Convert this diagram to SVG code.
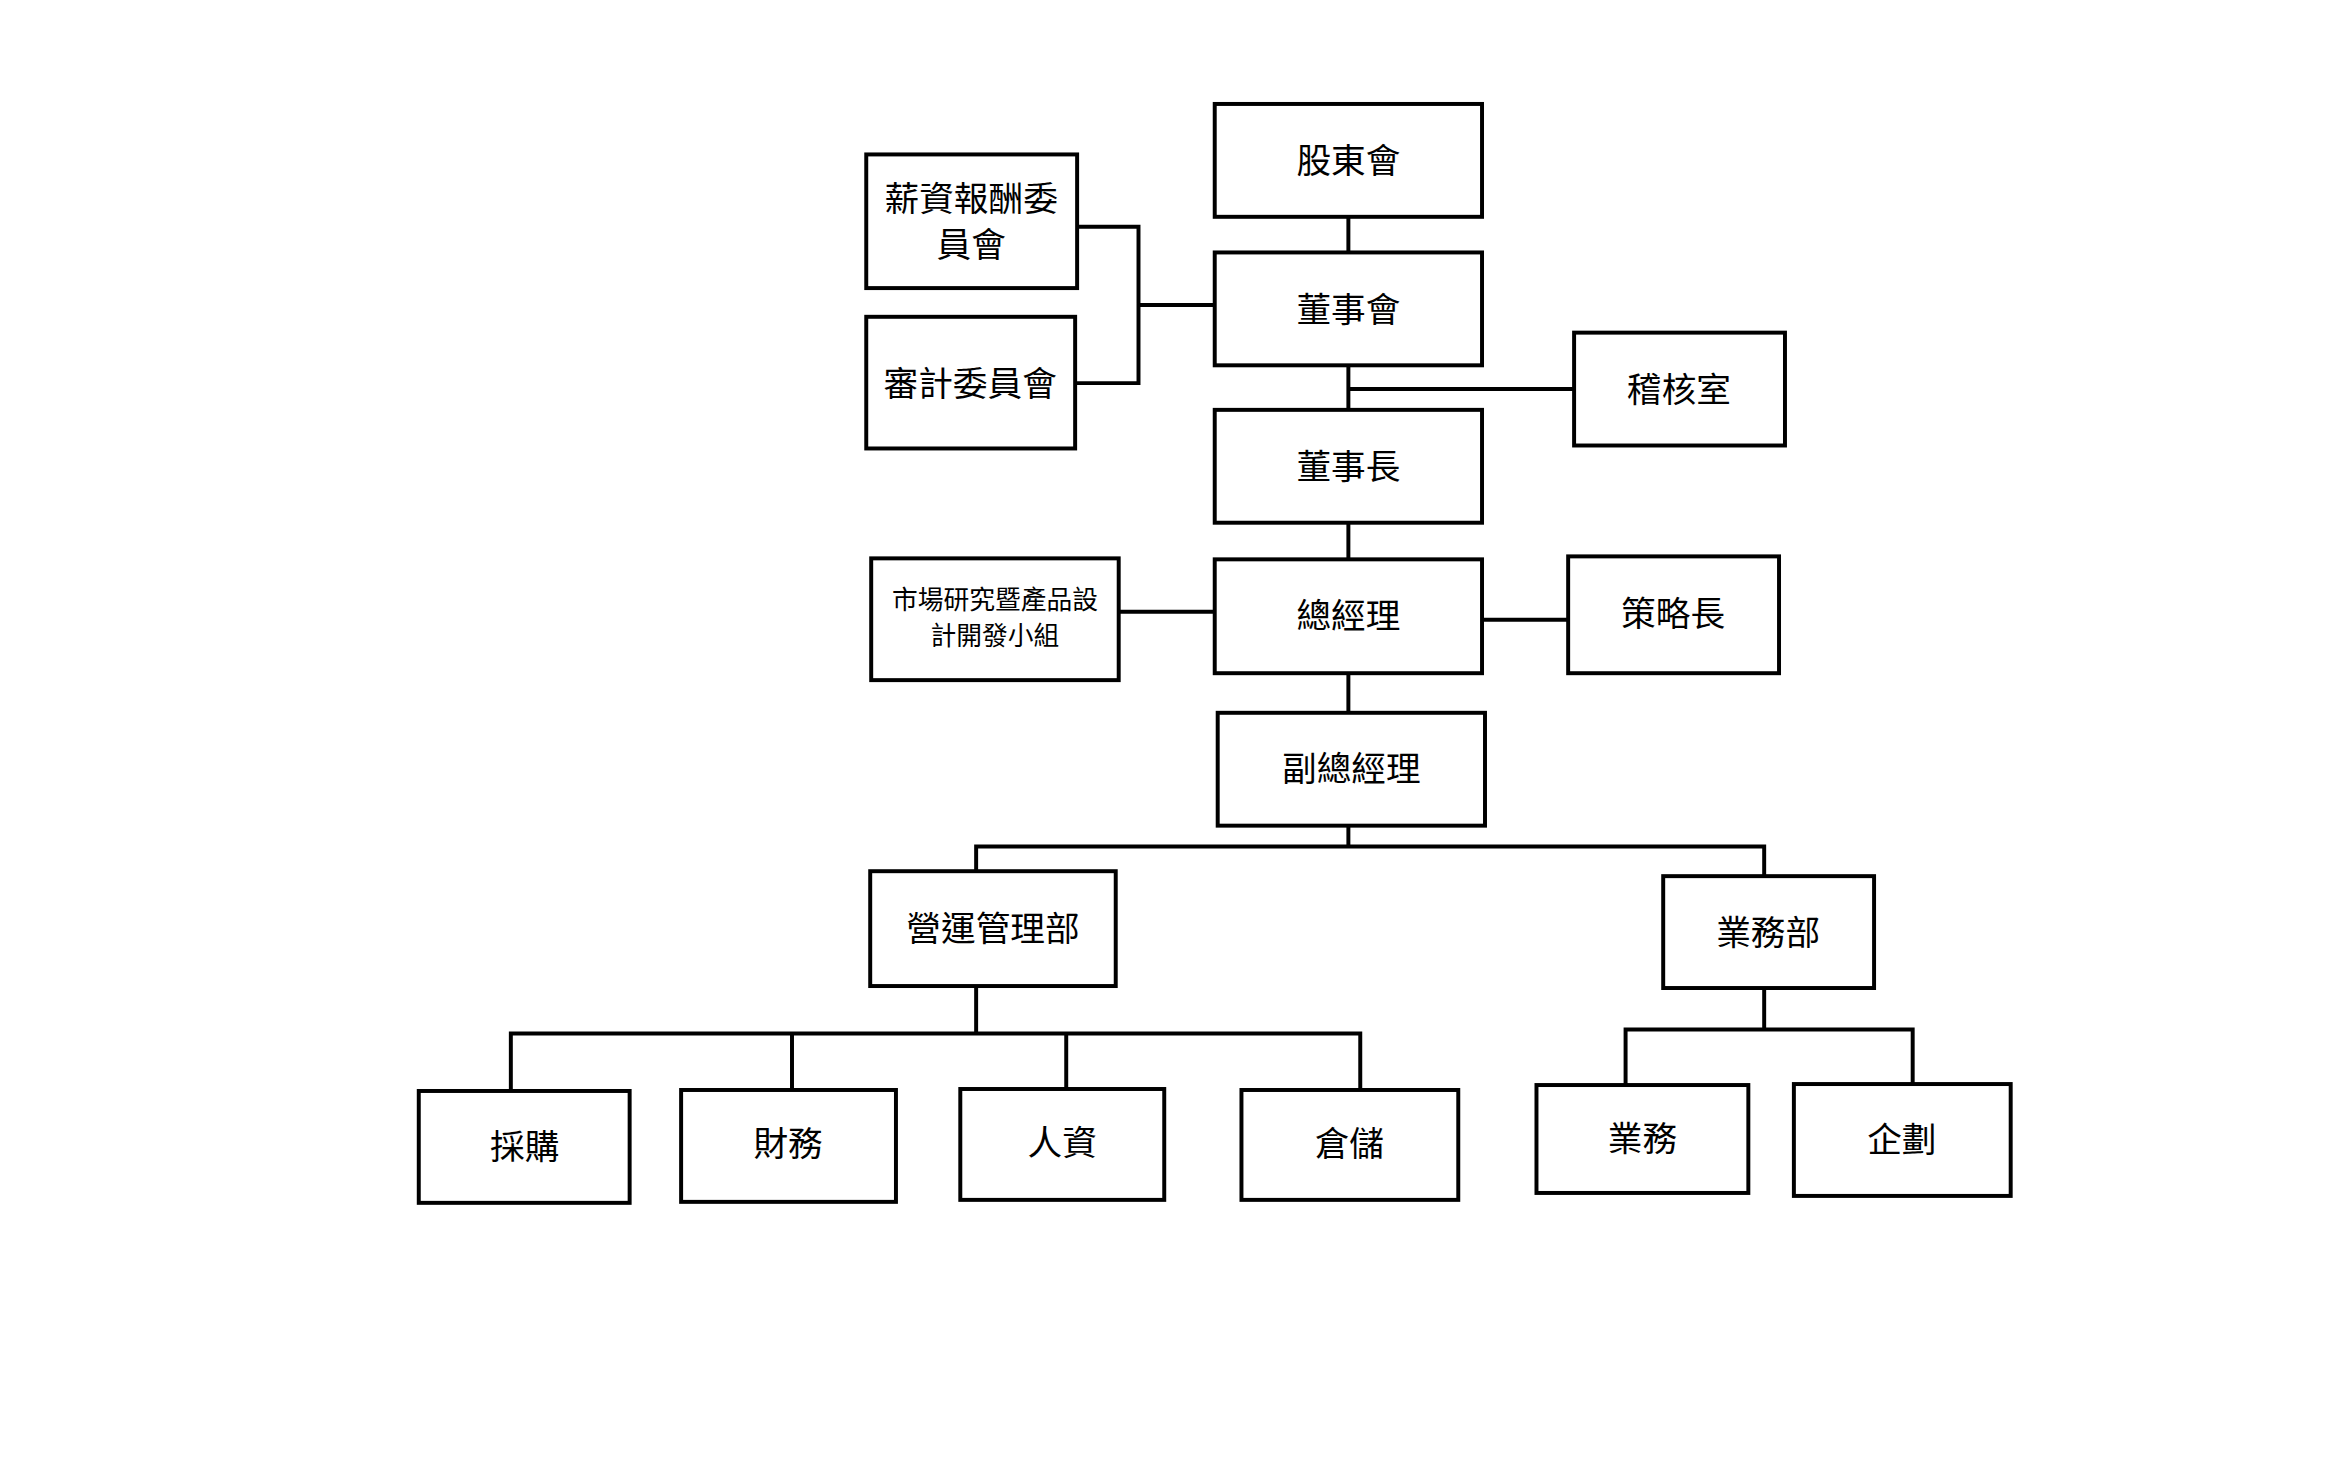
<svg xmlns="http://www.w3.org/2000/svg" width="2328" height="1477" viewBox="0 0 2328 1477">
<style>
rect{fill:#fff;stroke:#000;stroke-width:4}
text{font-family:"Noto Sans CJK TC","Noto Sans CJK SC",sans-serif;font-size:35px;text-anchor:middle;dominant-baseline:central;fill:#000}
.s{font-size:26px}
#c path{fill:none;stroke:#000;stroke-width:4}
</style>
<rect x="0" y="0" width="2328" height="1477" style="stroke:none"/>
<g transform="scale(0.99)">
<g id="c">
<path d="M1362 219V255M1362 369V414M1362 528V565M1362 680V720M1362 834V855"/>
<path d="M1088 229H1150V387H1086M1150 308H1227"/>
<path d="M1362 393H1590"/>
<path d="M1130 618H1227M1497 626H1584"/>
<path d="M986 880V855H1782V885"/>
<path d="M986 996V1044M516 1102V1044H1374V1101M800 1044V1101M1077 1044V1100"/>
<path d="M1782 998V1040M1642 1096V1040H1932V1095"/>
</g>
<g id="n1"><rect x="1227" y="105" width="270" height="114"/><text x="1362" y="160">股東會</text></g>
<g id="n2"><rect x="1227" y="255" width="270" height="114"/><text x="1362" y="310">董事會</text></g>
<g id="n3"><rect x="1227" y="414" width="270" height="114"/><text x="1362" y="469">董事長</text></g>
<g id="n4"><rect x="1227" y="565" width="270" height="115"/><text x="1362" y="619">總經理</text></g>
<g id="n5"><rect x="1230" y="720" width="270" height="114"/><text x="1365" y="774">副總經理</text></g>
<g id="n6"><rect x="875" y="156" width="213" height="135"/><text x="981" y="198">薪資報酬委</text><text x="981" y="244">員會</text></g>
<g id="n7"><rect x="875" y="320" width="211" height="133"/><text x="980" y="385">審計委員會</text></g>
<g id="n8"><rect x="1590" y="336" width="213" height="114"/><text x="1696" y="391">稽核室</text></g>
<g id="n9"><rect x="880" y="564" width="250" height="123"/><text class="s" x="1005" y="604">市場研究暨產品設</text><text class="s" x="1005" y="640">計開發小組</text></g>
<g id="n10"><rect x="1584" y="562" width="213" height="118"/><text x="1690" y="617">策略長</text></g>
<g id="n11"><rect x="879" y="880" width="248" height="116"/><text x="1003" y="935">營運管理部</text></g>
<g id="n12"><rect x="1680" y="885" width="213" height="113"/><text x="1786" y="939">業務部</text></g>
<g id="n13"><rect x="423" y="1102" width="213" height="113"/><text x="530" y="1156">採購</text></g>
<g id="n14"><rect x="688" y="1101" width="217" height="113"/><text x="796" y="1153">財務</text></g>
<g id="n15"><rect x="970" y="1100" width="206" height="112"/><text x="1073" y="1152">人資</text></g>
<g id="n16"><rect x="1254" y="1101" width="219" height="111"/><text x="1363" y="1153">倉儲</text></g>
<g id="n17"><rect x="1552" y="1096" width="214" height="109"/><text x="1659" y="1147">業務</text></g>
<g id="n18"><rect x="1812" y="1095" width="219" height="113"/><text x="1921" y="1148">企劃</text></g>
</g>
</svg>
